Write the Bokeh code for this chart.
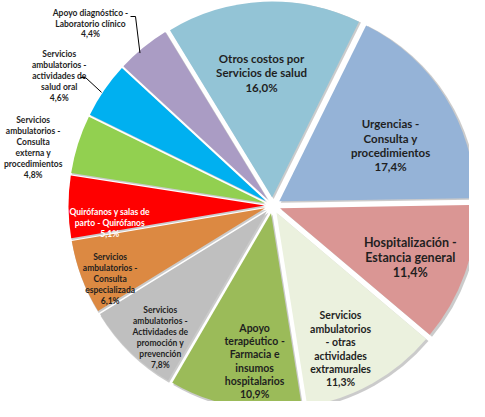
import math
from bokeh.plotting import figure
from bokeh.models import Range1d, ColumnDataSource
from bokeh.core.properties import value
from bokeh.embed import file_html
from bokeh.resources import INLINE

# ---- data (clockwise from the "Urgencias" slice) ----
categories = [
    "Urgencias - Consulta y procedimientos",
    "Hospitalización - Estancia general",
    "Servicios ambulatorios - otras actividades extramurales",
    "Apoyo terapéutico - Farmacia e insumos hospitalarios",
    "Servicios ambulatorios - Actividades de promoción y prevención",
    "Servicios ambulatorios - Consulta especializada",
    "Quirófanos y salas de parto - Quirófanos",
    "Servicios ambulatorios - Consulta externa y procedimientos",
    "Servicios ambulatorios - actividades de salud oral",
    "Apoyo diagnóstico - Laboratorio clínico",
    "Otros costos por Servicios de salud",
]
values = [17.4, 11.4, 11.3, 10.9, 7.8, 6.1, 5.1, 4.8, 4.6, 4.4, 16.0]

# wrapped label texts (as displayed)
label_lines = [
    "Urgencias -\nConsulta y\nprocedimientos",
    "Hospitalización -\nEstancia general",
    "Servicios\nambulatorios\n- otras\nactividades\nextramurales",
    "Apoyo\nterapéutico -\nFarmacia e\ninsumos\nhospitalarios",
    "Servicios\nambulatorios -\nActividades de\npromoción y\nprevención",
    "Servicios\nambulatorios -\nConsulta\nespecializada",
    "Quirófanos y salas de\nparto - Quirófanos",
    "Servicios\nambulatorios -\nConsulta\nexterna y\nprocedimientos",
    "Servicios\nambulatorios -\nactividades de\nsalud oral",
    "Apoyo diagnóstico -\nLaboratorio clínico",
    "Otros costos por\nServicios de salud",
]

# ---- styles / layout ----
colors = ["#95B3D7", "#DA9694", "#EBF1DE", "#9BBB59", "#BFBFBF", "#DC8942",
          "#FF0000", "#92D050", "#00B0F0", "#AA9CC4", "#93C4D6"]
text_colors = ["#1f1f1f"] * 11
text_colors[6] = "#ffffff"
font_sizes = ["11.5px", "12.5px", "10.5px", "10.5px", "8.5px", "8.5px", "8.5px", "8.5px", "8.5px", "8.5px", "11.5px"]
line_heights = [1.08, 1.02, 1.12, 1.1, 1.1, 1.1, 1.1, 1.1, 1.1, 1.07, 1.12]
# label centers in polar form around pie center: (clockwise angle from top, radius px)
label_polar = [(61.0, 135), (108.1, 145), (153.4, 152), (186.8, 151), (221.9, 168),
               (248.1, 175), (266.8, 163), (285.2, 248), (302.9, 254), (316.2, 263),
               (-4.5, 140)]
label_dy = [5, 7, 7.5, 5.5, 7, 8, 8.5, 7, 8, 8, 7]   # vertical correction (px, downward)

W, H = 469, 401
CX, CY = 280, 213      # pie centre in page pixels
R = 196
EXPLODE = 8
START = 26.3           # clockwise angle (deg from top) where first slice starts

p = figure(width=W, height=H, output_backend="svg", toolbar_location=None,
           x_range=Range1d(8, 8 + W), y_range=Range1d(-(8 + H), -8),
           min_border=0, outline_line_color=None, background_fill_color="white",
           border_fill_color="white")
p.axis.visible = False
p.grid.visible = False

total = sum(values)
xs, ys, sa, ea, mids = [], [], [], [], []
cum = START
for v in values:
    span = v / total * 360.0
    th1, th2 = cum, cum + span
    mid = math.radians((th1 + th2) / 2)
    xs.append(CX + EXPLODE * math.sin(mid))
    ys.append(-CY + EXPLODE * math.cos(mid))
    sa.append(math.radians(90 - th2))
    ea.append(math.radians(90 - th1))
    mids.append(mid)
    cum = th2

src = ColumnDataSource(dict(x=xs, y=ys, sa=sa, ea=ea, color=colors, cat=categories, val=values))
shadow = ColumnDataSource(dict(x=[x + 1.5 for x in xs], y=[y - 1.5 for y in ys], sa=sa, ea=ea))
p.wedge(x="x", y="y", radius=R + 1, start_angle="sa", end_angle="ea", source=shadow,
        fill_color="#8c8c8c", fill_alpha=0.45, line_color=None)
p.wedge(x="x", y="y", radius=R, start_angle="sa", end_angle="ea", source=src,
        fill_color="color", line_color=None)

# labels
for i, v in enumerate(values):
    ang, rr = label_polar[i]
    a = math.radians(ang)
    lx = CX + rr * math.sin(a)
    ly = -CY + rr * math.cos(a) - label_dy[i]
    txt = label_lines[i] + "\n" + ("%.1f" % v).replace(".", ",") + "%"
    p.text(x=[lx], y=[ly], text=[txt], text_font=value("Lato"), text_font_style="bold",
           text_font_size=font_sizes[i], text_color=text_colors[i], text_align="center",
           text_baseline="middle", text_line_height=line_heights[i])

# leader lines for the two outside labels (label-side start, slice-edge end)
leaders = [(9, [(138, 24), (143, 24)], (319.0, 202)), (8, [(88, 85), (93, 85)], (303.5, 205))]
for idx, pts, (ang, rr) in leaders:
    a = math.radians(ang)
    ex = CX + rr * math.sin(a)
    ey = CY - rr * math.cos(a)
    lxs = [q[0] for q in pts] + [ex]
    lys = [-q[1] for q in pts] + [-ey]
    p.line(lxs, lys, line_color="#000000", line_width=1)

open("out.html", "w").write(file_html(p, INLINE))
